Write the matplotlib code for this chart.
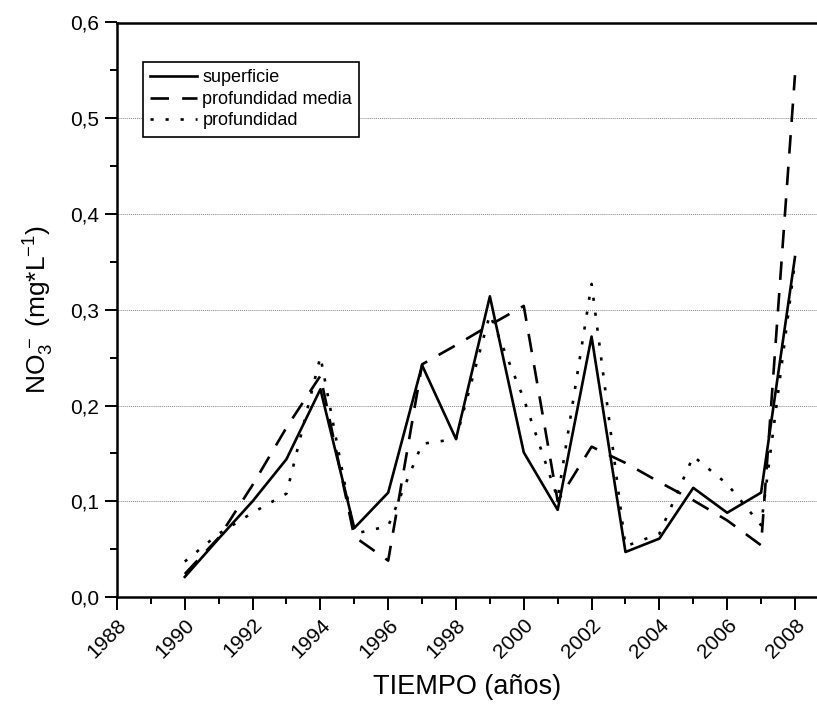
import numpy as np
import matplotlib.pyplot as plt
from matplotlib.ticker import MultipleLocator, FuncFormatter

plt.rcParams['font.family'] = ['Liberation Sans', 'DejaVu Sans']
plt.rcParams['mathtext.fontset'] = 'custom'
plt.rcParams['mathtext.rm'] = 'Liberation Sans'
plt.rcParams['mathtext.it'] = 'Liberation Sans'

# datos
years = list(range(1990, 2009))
superficie = [0.021, 0.061, 0.100, 0.144, 0.217, 0.072, 0.109, 0.242, 0.165, 0.314,
              0.151, 0.091, 0.272, 0.047, 0.061, 0.114, 0.088, 0.109, 0.355]
prof_media = [0.024, 0.062, 0.117, 0.177, 0.231, 0.063, 0.038, 0.243, 0.263, 0.284,
              0.304, 0.100, 0.157, 0.140, 0.120, 0.101, 0.080, 0.054, 0.545]
profundidad = [0.037, 0.066, 0.088, 0.108, 0.251, 0.066, 0.074, 0.160, 0.165, 0.295,
               0.207, 0.103, 0.327, 0.053, 0.066, 0.147, 0.118, 0.075, 0.350]
labels = ['superficie', 'profundidad media', 'profundidad']

fig = plt.figure(figsize=(8.17, 7.13), dpi=100)
ax = fig.add_axes([117/817, 1-597/713, 700/817, 574.5/713])

ax.plot(years, superficie, color='black', lw=1.9, ls='-', label=labels[0])
ax.plot(years, prof_media, color='black', lw=1.9, ls=(0, (7, 5)), label=labels[1])
ax.plot(years, profundidad, color='black', lw=1.9, ls=(0, (1.2, 4.5)), label=labels[2])

ax.set_xlim(1988, 2008.65)
ax.set_ylim(0, 0.6)
ax.xaxis.set_major_locator(MultipleLocator(2))
ax.xaxis.set_minor_locator(MultipleLocator(1))
ax.yaxis.set_major_locator(MultipleLocator(0.1))
ax.yaxis.set_minor_locator(MultipleLocator(0.05))
ax.yaxis.set_major_formatter(FuncFormatter(lambda v, p: ('%.1f' % v).replace('.', ',')))

ax.grid(axis='y', which='major', color='#888888', lw=0.7, ls=(0, (1, 1)))
ax.set_axisbelow(True)

for s in ['left', 'bottom', 'top']:
    ax.spines[s].set_linewidth(1.8)
ax.spines['right'].set_visible(False)

ax.tick_params(which='major', direction='out', length=9, width=1.4, labelsize=15, pad=4)
ax.tick_params(which='minor', direction='out', length=5, width=1.4)
plt.setp(ax.get_xticklabels(), rotation=45, ha='right', rotation_mode='anchor')

ax.set_xlabel('TIEMPO (años)', fontsize=19.5, labelpad=9)
ax.set_ylabel(r'NO$_3^{\,-}$ (mg*L$^{-1}$)', fontsize=19, labelpad=10)

leg = ax.legend(loc='upper left', bbox_to_anchor=(0.037, 0.931), fontsize=13,
                handlelength=2.6, handletextpad=0.3, borderpad=0.4, borderaxespad=0,
                labelspacing=0.25, fancybox=False, framealpha=1, edgecolor='black')
leg.get_frame().set_linewidth(1.2)

fig.savefig('out.png', dpi=100)
